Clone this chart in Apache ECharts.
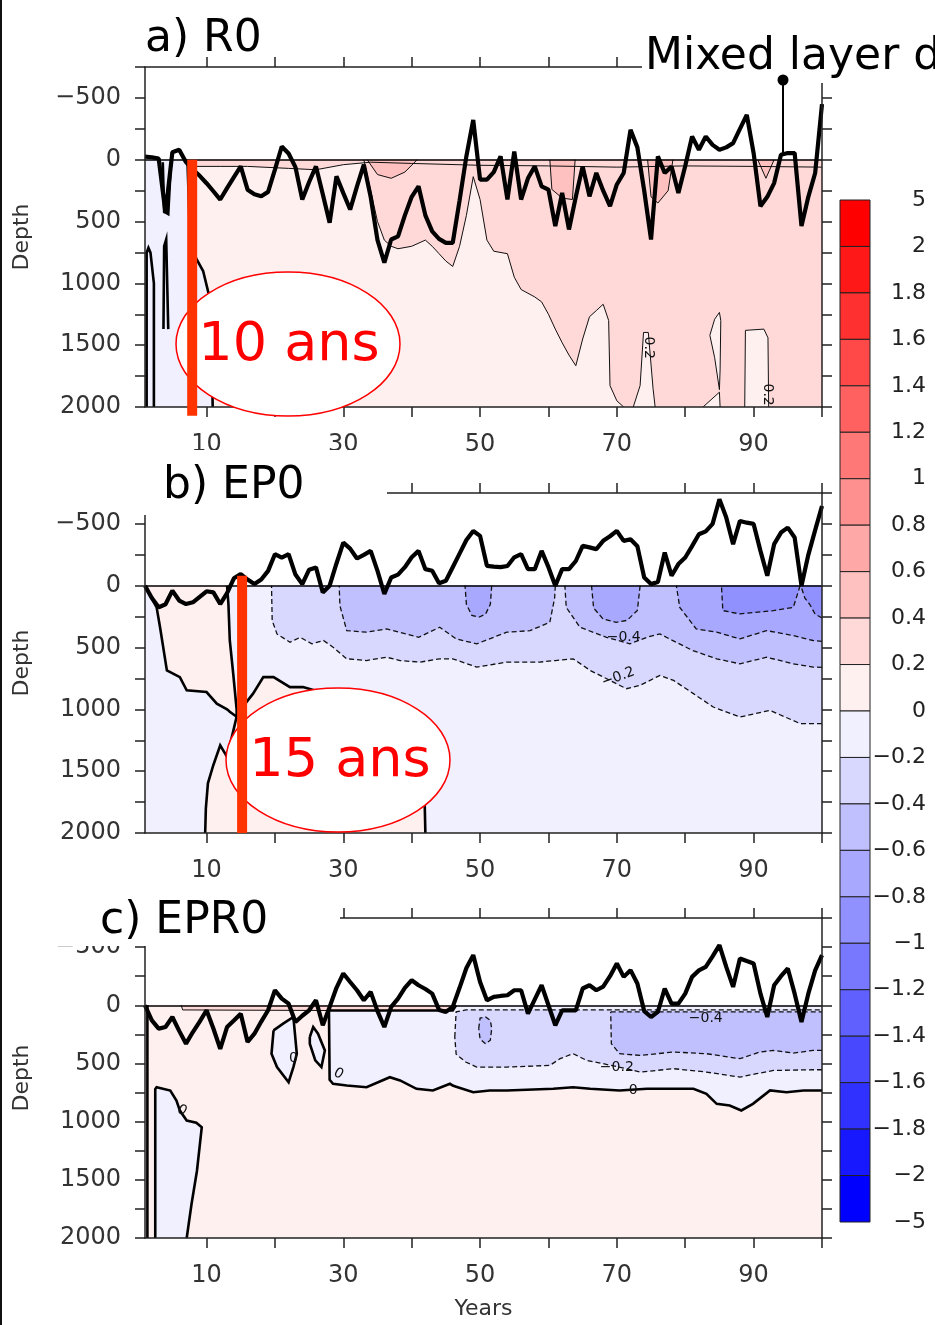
<!DOCTYPE html>
<html>
<head>
<meta charset="utf-8">
<script src="https://cdn.jsdelivr.net/npm/echarts@6/dist/echarts.min.js"></script>
<style>
html, body { margin: 0; padding: 0; background: #fff; }
#main { width: 935px; height: 1325px; }
</style>
</head>
<body>
<div id="main"></div>
<script>
// colour scale, top (5) to bottom (-5)
const levelColors = ['#ff0000', '#ff1818', '#ff3030', '#ff4848', '#ff6060', '#ff7878', '#ff9090', '#ffa8a8', '#ffc0c0', '#ffd8d8', '#fff0f0',
    '#f0f0ff', '#d8d8ff', '#c0c0ff', '#a8a8ff', '#9090ff', '#7878ff', '#6060ff', '#4848ff', '#3030ff', '#1818ff', '#0000ff'];
const levelLabels = ['5', '2', '1.8', '1.6', '1.4', '1.2', '1', '0.8', '0.6', '0.4', '0.2', '0',
    '−0.2', '−0.4', '−0.6', '−0.8', '−1', '−1.2', '−1.4', '−1.6', '−1.8', '−2', '−5'];

const xTicks = [10, 20, 30, 40, 50, 60, 70, 80, 90, 100];
const xLabels = [10, 30, 50, 70, 90];
const yLabels = [-500, 0, 500, 1000, 1500, 2000];

// mixed layer depth, years 1..100
const mldA = [-25, -20, -10, 430, -60, -80, 20, 80, 130, 190,
    255, 322, 230, 140, 54, 242, 280, 296, 260, 80,
    -107, -50, 60, 322, 180, 54, 280, 510, 134, 270,
    403, 215, 40, 300, 650, 833, 645, 620, 450, 300,
    215, 450, 580, 640, 672, 672, 330, -30, -322, 161,
    161, 100, -27, 322, -67, 322, 150, 54, 215, 242,
    537, 269, 564, 300, 54, 296, 107, 250, 376, 200,
    107, -242, -100, 250, 645, -27, 107, 54, 269, 50,
    -188, -81, -188, -120, -81, -100, -134, -250, -363, -54,
    376, 300, 189, -40, -54, -54, 537, 300, 107, -450];
const mldB = [0, 100, 175, 150, 40, 120, 148, 134, 90, 45,
    54, 148, 60, -60, -94, -50, -13, -50, -120, -255,
    -228, -255, -90, -13, -130, -148, 54, 0, -180, -349,
    -300, -220, -250, -282, -120, 67, -67, -90, -150, -230,
    -282, -134, -121, -20, -40, -150, -260, -370, -443, -403,
    -161, -155, -150, -160, -230, -255, -134, -134, -282, -150,
    0, -134, -134, -200, -322, -310, -296, -363, -400, -443,
    -363, -376, -320, -67, -13, -30, -269, -81, -175, -228,
    -320, -416, -440, -500, -699, -551, -336, -524, -510, -500,
    -282, -81, -336, -430, -470, -390, 0, -250, -450, -645];
const mldC = [0, 130, 201, 187, 101, 220, 330, 230, 140, 43,
    200, 374, 187, 130, 72, 316, 244, 140, 43, -129,
    -57, -14, 144, 90, 43, -43, 172, 14, -150, -273,
    -200, -129, -43, -115, 50, 187, 14, -57, -150, -215,
    -172, -140, -100, 40, 57, 14, -150, -320, -431, -200,
    -43, -72, -80, -86, -129, -129, 72, -50, -172, 0,
    172, 43, 43, 43, -144, -172, -129, -160, -250, -359,
    -244, -302, -187, 50, 101, 57, -144, -14, -14, -100,
    -244, -300, -330, -420, -517, -330, -158, -402, -380, -359,
    -100, 101, -172, -250, -316, -100, 144, -100, -300, -431];

// shaded areas: lvl = index in levelColors; band (x, top, bot) or polygon pts [year, depth]
const regionsA = [
    { lvl: 10, x: [1, 100], top: 0, bot: 2000 },
    { lvl: 11, x: [1, 7.2, 7.6, 8.5, 9.5, 10.6, 10.9], top: [0, 0, 650, 800, 900, 1150, 2000], bot: 2000, line: 'thick' },
    { lvl: 9, x: [8, 12, 16, 22, 26, 30, 33], top: 0, bot: [54, 54, 54, 70, 81, 40, 20] },
    { lvl: 9, x: [33, 34, 35, 36, 37, 38, 40, 42, 43, 44, 45, 46, 47, 48, 49, 50, 51, 52, 54, 55, 56, 58, 59, 60, 61, 62, 63, 64, 65, 66, 67, 68, 68.8, 69, 70, 71, 100],
        top: 0, bot: [0, 250, 500, 650, 700, 720, 700, 650, 700, 760, 820, 863, 700, 450, 137, 322, 650, 740, 760, 950, 1050, 1110, 1150, 1250, 1370, 1480, 1580, 1666, 1450, 1270, 1220, 1169, 1300, 1827, 1950, 2000, 2000], line: 'thin' },
    { lvl: 10, x: [72.4, 73.4, 73.9, 74.6, 75.3, 75.6], top: [2000, 1827, 1397, 1397, 1853, 2000], bot: 2000, line: 'thin' },
    { lvl: 10, pts: [[83.6, 1420], [84.3, 1290], [85.0, 1235], [85.2, 1300], [85.1, 1700], [85.0, 1860], [84.3, 1600]], line: 'thin' },
    { lvl: 10, x: [88.7, 88.8, 91.5, 92.1, 92.2], top: [2000, 1380, 1370, 1440, 2000], bot: 2000, line: 'thin' },
    { lvl: 10, x: [82.6, 85, 85.1], top: [2000, 1880, 2000], bot: 2000, line: 'thin' },
    { lvl: 8, x: [33.5, 35, 37, 39, 40.8], top: 0, bot: [0, 120, 150, 100, 0], line: 'thin' },
    { lvl: 8, x: [60.2, 60.5, 62, 63.5, 63.9], top: 0, bot: [0, 240, 310, 322, 0], line: 'thin' },
    { lvl: 8, x: [74.5, 75, 76, 77.5, 78.2], top: 0, bot: [0, 300, 350, 250, 0], line: 'thin' },
    { lvl: 8, x: [90.6, 91.8, 93], top: 0, bot: [0, 150, 0], line: 'thin' }
];
const linesA = [
    { line: 'thin', pts: [[8, 54], [12, 54], [16, 54], [22, 70], [26, 81], [30, 40], [34, 20], [40, 30], [50, 45], [60, 50], [70, 60], [80, 50], [90, 54], [100, 60]] },
    { line: 'thick', pts: [[1.24, 2000], [1.24, 752], [1.5, 712], [1.8, 752], [2.3, 1000], [2.3, 2000]] },
    { line: 'thick', pts: [[3.7, 1370], [3.8, 700], [4.1, 645], [4.4, 1370]] },
    { line: 'thick', pts: [[3.6, 20], [3.8, 420], [4.4, 440], [4.8, 20]] }
];
const labelsA = [
    { x: 74.6, y: 1520, t: '0.2', rot: 90 },
    { x: 92, y: 1900, t: '0.2', rot: 90 }
];

const regionsB = [
    { lvl: 11, x: [1, 100], top: 0, bot: 2000 },
    { lvl: 10, x: [1, 2.7, 3.2, 4.2, 6.1, 7.1, 10, 11.5, 13.0, 13.2, 13.4, 13.9, 14.4],
        top: [0, 0, 0, 0, 0, 0, 0, 0, 0, 148, 443, 712, 1000],
        bot: [0, 175, 336, 685, 739, 846, 860, 954, 1000, 1008, 1020, 1040, 1060], line: 'thick' },
    { lvl: 10, x: [9.8, 9.9, 10.2, 11, 12, 13, 13.8, 14.4, 15, 16.8, 18.3, 19.8, 22.2, 24.1, 26, 30, 34, 37, 40, 41.9, 42],
        top: [2000, 1800, 1598, 1450, 1290, 1384, 1200, 1060, 1000, 873, 739, 739, 820, 820, 850, 900, 1000, 1200, 1500, 1760, 2000], bot: 2000, line: 'thick' },
    { lvl: 12, x: [19.5, 19.6, 20.3, 22.2, 23.7, 25.4, 27.1, 28.5, 30.5, 33.4, 36.3, 38.3, 41.2, 44.1, 46, 49.5, 53.9, 58.7, 61, 63.6, 66.1, 69, 71.4, 73.4, 76.3, 78.3, 81.2, 84.1, 88, 92.4, 96.8, 100],
        top: 0, bot: [0, 282, 390, 457, 417, 470, 443, 497, 591, 605, 578, 605, 618, 591, 591, 658, 618, 618, 605, 591, 685, 766, 833, 806, 725, 766, 873, 981, 1062, 1008, 1115, 1115], line: 'dash' },
    { lvl: 13, x: [29.4, 29.5, 30.5, 33.4, 36.3, 41, 44.1, 46.5, 49.5, 53.9, 57.3, 60.2, 60.9, 61.0],
        top: 0, bot: [0, 161, 363, 376, 349, 417, 336, 430, 470, 376, 363, 296, 100, 0], line: 'dash' },
    { lvl: 13, x: [62.4, 62.6, 64.6, 68.5, 71.9, 74.4, 76.3, 77.7, 81.1, 84.6, 88, 91.9, 95.8, 98.7, 100],
        top: 0, bot: [0, 175, 336, 417, 470, 417, 390, 430, 524, 591, 632, 578, 632, 658, 660], line: 'dash' },
    { lvl: 14, x: [47.8, 48, 48.8, 49.8, 50.8, 51.5, 51.7], top: 0, bot: [0, 150, 240, 255, 230, 150, 0], line: 'dash' },
    { lvl: 14, x: [66.3, 66.6, 68, 69.9, 71.5, 73, 73.4], top: 0, bot: [0, 180, 270, 296, 280, 200, 0], line: 'dash' },
    { lvl: 14, x: [78.7, 79.2, 81.6, 84.6, 88, 91.9, 95.8, 98.7, 100], top: 0, bot: [0, 175, 349, 376, 430, 363, 403, 443, 450], line: 'dash' },
    { lvl: 15, x: [85.3, 85.5, 88, 92.9, 95.8, 96.8], top: 0, bot: [0, 201, 228, 201, 175, 0], line: 'dash' },
    { lvl: 15, x: [96.9, 97.5, 98.2, 99, 100], top: 0, bot: [0, 100, 150, 230, 260], line: 'dash' }
];
const linesB = [];
const labelsB = [
    { x: 71, y: 420, t: '−0.4' },
    { x: 70.2, y: 740, t: '−0.2', rot: -20 }
];

const regionsC = [
    { lvl: 10, x: [1, 100], top: 0, bot: 2000 },
    { lvl: 9, x: [6.3, 6.5, 28, 46, 46.2], top: 0, bot: [0, 40, 45, 45, 0], line: 'thin' },
    { lvl: 11, pts: [[2.5, 2000], [2.5, 720], [2.7, 704], [4.7, 733], [5.6, 819], [6.1, 905], [7.1, 991], [8.5, 1010], [9.3, 1049], [8.6, 1422], [7.8, 1710], [7.1, 2000]], line: 'thick' },
    { lvl: 11, pts: [[19.8, 216], [19.5, 417], [20.3, 531], [22, 661], [22.7, 531], [23.2, 417], [22.7, 101], [21.2, 158]], line: 'thick' },
    { lvl: 11, pts: [[25.1, 273], [25.6, 187], [26.3, 244], [27.3, 388], [26.8, 531], [25.9, 474], [25.1, 330]], line: 'thick' },
    { lvl: 11, x: [27.9, 28.0, 28.5, 30.5, 33.4, 36.8, 38.3, 40.7, 43.1, 45.6, 46.0, 46.5, 49, 51.4, 53.9, 60.7, 63.6, 66.1, 70.4, 74.4, 81.2, 83.1, 84.6, 86.5, 88.2, 89.9, 92.4, 94.8, 97.3, 99, 100],
        top: [45, 45, 45, 45, 45, 45, 45, 45, 45, 45, 45, 0, 0, 0, 0, 0, 0, 0, 0, 0, 0, 0, 0, 0, 0, 0, 0, 0, 0, 0, 0],
        bot: [45, 640, 675, 689, 704, 618, 646, 718, 732, 675, 690, 700, 747, 732, 732, 718, 704, 718, 732, 718, 718, 761, 847, 861, 904, 847, 732, 747, 732, 732, 732], line: 'thick' },
    { lvl: 12, x: [46.3, 46.5, 47.9, 49.5, 53.9, 60.2, 61.7, 63.6, 65.6, 68, 71.4, 73.4, 78.3, 83.1, 88, 90.4, 92.9, 98.7, 100],
        top: [273, 57, 40, 40, 40, 40, 40, 40, 40, 40, 40, 40, 40, 40, 40, 40, 40, 40, 40],
        bot: [273, 420, 488, 531, 531, 517, 459, 416, 474, 502, 545, 574, 545, 574, 617, 588, 560, 554, 554], line: 'dash' },
    { lvl: 13, x: [69.1, 69.2, 70.4, 73.4, 78.3, 83.1, 88, 90.9, 92.9, 95.8, 98.7, 100],
        top: 57, bot: [57, 330, 416, 431, 402, 416, 459, 402, 388, 411, 388, 388], line: 'dash' },
    { lvl: 13, x: [49.8, 50, 50.8, 51.5, 51.7], top: [200, 110, 100, 130, 200], bot: [200, 290, 330, 300, 200], line: 'dash' }
];
const linesC = [
    { line: 'thick', pts: [[1.35, 0], [1.35, 2000]] }
];
const labelsC = [
    { x: 72.4, y: 730, t: '0' },
    { x: 70, y: 530, t: '−0.2' },
    { x: 83, y: 110, t: '−0.4' },
    { x: 22.7, y: 457, t: '0' },
    { x: 29.3, y: 590, t: '0', rot: 30 },
    { x: 6.4, y: 905, t: '0', rot: 30 }
];

const FONT = '"DejaVu Sans", sans-serif';
const panelTops = [67, 493, 918];
const panelHeights = [340, 340, 320];
const panels = [
    { regions: regionsA, lines: linesA, labels: labelsA, mld: mldA, bar: [[7.9, 0], [7.9, 2070]] },
    { regions: regionsB, lines: linesB, labels: labelsB, mld: mldB, bar: [[15.2, -80], [15.2, 2000]] },
    { regions: regionsC, lines: linesC, labels: labelsC, mld: mldC, bar: null }
];

function ringOf(r) {
    if (r.pts) return r.pts;
    const top = Array.isArray(r.top) ? r.top : r.x.map(() => r.top);
    const bot = Array.isArray(r.bot) ? r.bot : r.x.map(() => r.bot);
    const ring = [];
    for (let i = 0; i < r.x.length; i++) ring.push([r.x[i], top[i]]);
    for (let i = r.x.length - 1; i >= 0; i--) ring.push([r.x[i], bot[i]]);
    return ring;
}
// segments lying on the plot frame are not contour lines
function onBorder(p, q) {
    if (p[1] <= 0 && q[1] <= 0) return true;
    if (p[1] >= 2000 && q[1] >= 2000) return true;
    if (p[0] === q[0] && (p[0] <= 1 || p[0] >= 100)) return true;
    return false;
}
function pieces(ring) {
    const out = [];
    let cur = null;
    for (let i = 0; i < ring.length; i++) {
        const p = ring[i], q = ring[(i + 1) % ring.length];
        if (onBorder(p, q)) { cur = null; continue; }
        if (!cur) { cur = [p]; out.push(cur); }
        cur.push(q);
    }
    return out;
}
function strokeStyle(kind) {
    if (kind === 'thick') return { stroke: '#000', lineWidth: 2.6, fill: null };
    if (kind === 'dash') return { stroke: '#111', lineWidth: 1.3, lineDash: [5, 3], fill: null };
    return { stroke: '#111', lineWidth: 1, fill: null };
}

const lineCol = { color: '#222', width: 1.5 };
const grids = panelTops.map((t, i) => ({ left: 145, top: t, width: 677, height: panelHeights[i] }));
grids.push({ left: 840, top: 200, width: 30, height: 1022 });

const xAxes = [], yAxes = [];
panels.forEach((p, g) => {
    ['bottom', 'top'].forEach(pos => xAxes.push({
        type: 'value', gridIndex: g, position: pos, min: 1, max: 100, z: 10,
        axisLine: { show: true, onZero: false, lineStyle: lineCol },
        axisTick: { show: true, length: 10, customValues: xTicks, lineStyle: lineCol },
        axisLabel: { show: pos === 'bottom', customValues: xLabels, margin: 26, fontSize: 24, color: '#333', fontFamily: FONT },
        splitLine: { show: false },
        name: (g === 2 && pos === 'bottom') ? 'Years' : '',
        nameLocation: 'middle', nameGap: 60,
        nameTextStyle: { fontSize: 22, color: '#333', fontFamily: FONT }
    }));
    ['left', 'right'].forEach(pos => yAxes.push({
        type: 'value', gridIndex: g, position: pos, min: -750, max: 2000, interval: 250, inverse: true, z: 10,
        axisLine: { show: true, onZero: false, lineStyle: lineCol },
        axisTick: { show: true, length: 10, lineStyle: lineCol },
        axisLabel: {
            show: pos === 'left', customValues: yLabels, margin: 24, fontSize: 24, color: '#333', fontFamily: FONT,
            formatter: v => String(v).replace('-', '−')
        },
        splitLine: { show: false },
        name: pos === 'left' ? 'Depth' : '',
        nameLocation: 'middle', nameGap: 112,
        nameTextStyle: { fontSize: 22, color: '#333', fontFamily: FONT }
    }));
});
xAxes.push({ type: 'value', gridIndex: 3, min: 0, max: 1, show: false });
yAxes.push({
    type: 'value', gridIndex: 3, min: 0, max: 22, interval: 1, inverse: true, position: 'right',
    axisLine: { show: false }, axisTick: { show: false }, splitLine: { show: false },
    axisLabel: { formatter: v => levelLabels[v], margin: 56, align: 'right', fontSize: 22, color: '#222', fontFamily: FONT }
});

const series = [];
panels.forEach((p, g) => {
    const ax = { xAxisIndex: 2 * g, yAxisIndex: 2 * g };
    series.push(Object.assign({
        type: 'custom', z: 1, silent: true, clip: true,
        data: p.regions.map(r => ringOf(r)[0]),
        renderItem: (params, api) => {
            const r = p.regions[params.dataIndex];
            return {
                type: 'polygon',
                shape: { points: ringOf(r).map(q => api.coord(q)) },
                style: { fill: levelColors[r.lvl], stroke: levelColors[r.lvl], lineWidth: 0.5 }
            };
        }
    }, ax));
    series.push(Object.assign({
        type: 'custom', z: 3, silent: true, clip: true,
        data: [[1, 0]],
        renderItem: (params, api) => {
            const children = [];
            p.regions.forEach(r => {
                if (!r.line) return;
                pieces(ringOf(r)).forEach(seg => children.push({
                    type: 'polyline', shape: { points: seg.map(q => api.coord(q)) }, style: strokeStyle(r.line)
                }));
            });
            p.lines.forEach(l => children.push({
                type: 'polyline', shape: { points: l.pts.map(q => api.coord(q)) }, style: strokeStyle(l.line)
            }));
            p.labels.forEach(l => {
                const c = api.coord([l.x, l.y]);
                children.push({
                    type: 'text', x: c[0], y: c[1], rotation: -(l.rot || 0) * Math.PI / 180,
                    style: { text: l.t, fill: '#111', font: '14px ' + FONT, align: 'center', verticalAlign: 'middle' }
                });
            });
            return { type: 'group', children: children };
        }
    }, ax));
    series.push(Object.assign({
        type: 'line', z: 5, silent: true, symbol: 'none',
        data: p.mld.map((v, i) => [i + 1, v]),
        lineStyle: { color: '#000', width: 4.2 },
        markLine: {
            silent: true, symbol: ['none', 'none'], label: { show: false },
            lineStyle: { color: '#000', width: 1.5, type: 'solid' },
            data: [{ yAxis: 0 }]
        }
    }, ax));
    if (p.bar) {
        series.push(Object.assign({
            type: 'line', z: 60, silent: true, symbol: 'none', clip: false,
            data: p.bar, lineStyle: { color: '#ff3300', width: 10, cap: 'butt' }
        }, ax));
    }
});
series.push({
    type: 'custom', xAxisIndex: 6, yAxisIndex: 6, silent: true,
    data: levelColors.map((c, i) => [0, i]),
    renderItem: (params, api) => {
        const i = params.dataIndex;
        const a = api.coord([0, i]), b = api.coord([1, i + 1]);
        return {
            type: 'rect',
            shape: { x: a[0], y: a[1], width: b[0] - a[0], height: b[1] - a[1] },
            style: { fill: levelColors[i], stroke: '#222', lineWidth: 1 }
        };
    }
});

const bigFont = '44px ' + FONT;
const chart = echarts.init(document.getElementById('main'), null, { renderer: 'canvas' });
chart.setOption({
    animation: false,
    backgroundColor: '#fff',
    grid: grids,
    xAxis: xAxes,
    yAxis: yAxes,
    series: series,
    graphic: [
        { type: 'rect', shape: { x: 0, y: 0, width: 2, height: 1325 }, style: { fill: '#111' }, z: 100 },
        { type: 'text', x: 145, y: 40, style: { text: 'a) R0', font: bigFont, fill: '#000', verticalAlign: 'middle' }, z: 100 },
        { type: 'rect', shape: { x: 642, y: 18, width: 300, height: 65 }, style: { fill: '#fff' }, z: 90 },
        { type: 'text', x: 645, y: 58, style: { text: 'Mixed layer depth', font: bigFont, fill: '#000', verticalAlign: 'middle' }, z: 100 },
        { type: 'line', shape: { x1: 783, y1: 80, x2: 783, y2: 155 }, style: { stroke: '#000', lineWidth: 2 }, z: 100 },
        { type: 'circle', shape: { cx: 783, cy: 80, r: 5.5 }, style: { fill: '#000' }, z: 100 },
        { type: 'rect', shape: { x: 130, y: 450, width: 257, height: 65 }, style: { fill: '#fff' }, z: 90 },
        { type: 'text', x: 163, y: 487, style: { text: 'b) EP0', font: bigFont, fill: '#000', verticalAlign: 'middle' }, z: 100 },
        { type: 'rect', shape: { x: 40, y: 882, width: 300, height: 64 }, style: { fill: '#fff' }, z: 90 },
        { type: 'text', x: 100, y: 922, style: { text: 'c) EPR0', font: bigFont, fill: '#000', verticalAlign: 'middle' }, z: 100 },
        { type: 'ellipse', shape: { cx: 288, cy: 344, rx: 112, ry: 72 }, style: { fill: '#fff', stroke: '#ff0000', lineWidth: 1.5 }, z: 50 },
        { type: 'text', x: 289, y: 346, style: { text: '10 ans', font: '54px ' + FONT, fill: '#ff0000', align: 'center', verticalAlign: 'middle' }, z: 51 },
        { type: 'ellipse', shape: { cx: 338, cy: 760, rx: 112, ry: 72 }, style: { fill: '#fff', stroke: '#ff0000', lineWidth: 1.5 }, z: 50 },
        { type: 'text', x: 340, y: 762, style: { text: '15 ans', font: '54px ' + FONT, fill: '#ff0000', align: 'center', verticalAlign: 'middle' }, z: 51 }
    ]
});
</script>
</body>
</html>
